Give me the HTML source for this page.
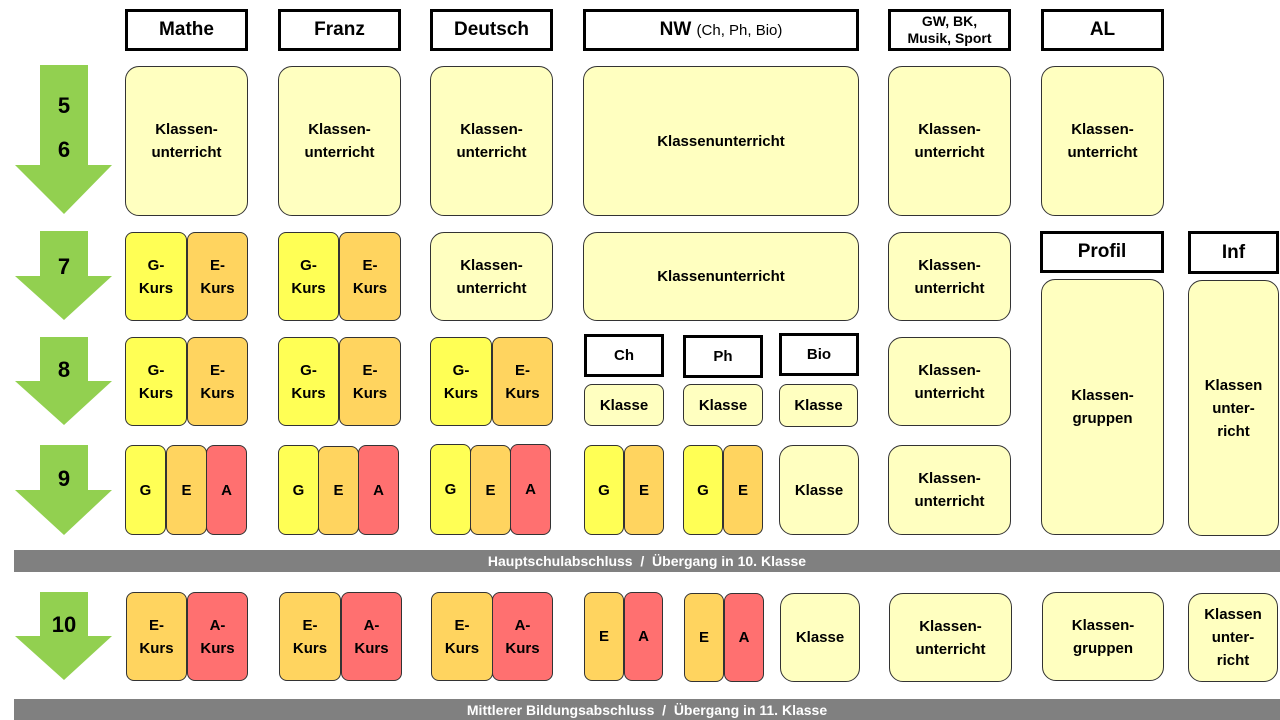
<!DOCTYPE html>
<html><head><meta charset="utf-8"><style>
body{margin:0;width:1280px;height:720px;background:#fff;position:relative;overflow:hidden;font-family:"Liberation Sans",sans-serif;font-weight:bold;}
div{position:absolute;box-sizing:border-box;display:flex;align-items:center;justify-content:center;text-align:center;color:#000;}
.h{border:3px solid #000;background:#fff;font-size:19px;}
.b{border:1px solid #333;border-radius:14px;background:#ffffc0;font-size:15px;line-height:23px;}
.s{border-radius:8px;}
.g{background:#ffff55;}
.e{background:#ffd45f;}
.a{background:#ff7070;}
.bar{background:#808080;color:#fff;font-size:14px;}
.n{font-size:22px;line-height:44px;}
</style></head><body>
<svg style="position:absolute;left:0;top:0" width="130" height="720">
<g fill="#92d050">
<polygon points="40,65 88,65 88,165 112,165 64,214 15,165 40,165"/>
<polygon points="40,231 88,231 88,276 112,276 64,320 15,276 40,276"/>
<polygon points="40,337 88,337 88,381 112,381 64,425 15,381 40,381"/>
<polygon points="40,445 88,445 88,490 112,490 64,535 15,490 40,490"/>
<polygon points="40,592 88,592 88,636 112,636 64,680 15,636 40,636"/>
</g></svg>
<div class="n" style="left:40px;top:83px;width:48px;height:90px;">5<br>6</div>
<div class="n" style="left:40px;top:245px;width:48px;height:44px;">7</div>
<div class="n" style="left:40px;top:348px;width:48px;height:44px;">8</div>
<div class="n" style="left:40px;top:457px;width:48px;height:44px;">9</div>
<div class="n" style="left:40px;top:603px;width:48px;height:44px;">10</div>

<div class="h" style="left:125px;top:9px;width:123px;height:42px;">Mathe</div>
<div class="h" style="left:278px;top:9px;width:123px;height:42px;">Franz</div>
<div class="h" style="left:430px;top:9px;width:123px;height:42px;">Deutsch</div>
<div class="h" style="left:583px;top:9px;width:276px;height:42px;">NW&nbsp;<span style="font-weight:normal;font-size:15px">(Ch, Ph, Bio)</span></div>
<div class="h" style="left:888px;top:9px;width:123px;height:42px;font-size:14px;line-height:17px;">GW, BK,<br>Musik, Sport</div>
<div class="h" style="left:1041px;top:9px;width:123px;height:42px;">AL</div>
<div class="h" style="left:1040px;top:231px;width:124px;height:42px;">Profil</div>
<div class="h" style="left:1188px;top:231px;width:91px;height:43px;">Inf</div>

<!-- row 5/6 -->
<div class="b" style="left:125px;top:66px;width:123px;height:150px;">Klassen-<br>unterricht</div>
<div class="b" style="left:278px;top:66px;width:123px;height:150px;">Klassen-<br>unterricht</div>
<div class="b" style="left:430px;top:66px;width:123px;height:150px;">Klassen-<br>unterricht</div>
<div class="b" style="left:583px;top:66px;width:276px;height:150px;">Klassenunterricht</div>
<div class="b" style="left:888px;top:66px;width:123px;height:150px;">Klassen-<br>unterricht</div>
<div class="b" style="left:1041px;top:66px;width:123px;height:150px;">Klassen-<br>unterricht</div>

<!-- row 7 -->
<div class="b s g" style="left:125px;top:232px;width:62px;height:89px;">G-<br>Kurs</div>
<div class="b s e" style="left:187px;top:232px;width:61px;height:89px;">E-<br>Kurs</div>
<div class="b s g" style="left:278px;top:232px;width:61px;height:89px;">G-<br>Kurs</div>
<div class="b s e" style="left:339px;top:232px;width:62px;height:89px;">E-<br>Kurs</div>
<div class="b" style="left:430px;top:232px;width:123px;height:89px;">Klassen-<br>unterricht</div>
<div class="b" style="left:583px;top:232px;width:276px;height:89px;">Klassenunterricht</div>
<div class="b" style="left:888px;top:232px;width:123px;height:89px;">Klassen-<br>unterricht</div>

<!-- row 8 -->
<div class="b s g" style="left:125px;top:337px;width:62px;height:89px;">G-<br>Kurs</div>
<div class="b s e" style="left:187px;top:337px;width:61px;height:89px;">E-<br>Kurs</div>
<div class="b s g" style="left:278px;top:337px;width:61px;height:89px;">G-<br>Kurs</div>
<div class="b s e" style="left:339px;top:337px;width:62px;height:89px;">E-<br>Kurs</div>
<div class="b s g" style="left:430px;top:337px;width:62px;height:89px;">G-<br>Kurs</div>
<div class="b s e" style="left:492px;top:337px;width:61px;height:89px;">E-<br>Kurs</div>
<div class="h" style="left:584px;top:334px;width:80px;height:43px;font-size:15px;">Ch</div>
<div class="h" style="left:683px;top:335px;width:80px;height:43px;font-size:15px;">Ph</div>
<div class="h" style="left:779px;top:333px;width:80px;height:43px;font-size:15px;">Bio</div>
<div class="b s" style="left:584px;top:384px;width:80px;height:42px;">Klasse</div>
<div class="b s" style="left:683px;top:384px;width:80px;height:42px;">Klasse</div>
<div class="b s" style="left:779px;top:384px;width:79px;height:43px;">Klasse</div>
<div class="b" style="left:888px;top:337px;width:123px;height:89px;">Klassen-<br>unterricht</div>
<div class="b" style="left:1041px;top:279px;width:123px;height:256px;">Klassen-<br>gruppen</div>
<div class="b" style="left:1188px;top:280px;width:91px;height:256px;">Klassen<br>unter-<br>richt</div>

<!-- row 9 -->
<div class="b s g" style="left:125px;top:445px;width:41px;height:90px;">G</div>
<div class="b s e" style="left:166px;top:445px;width:41px;height:90px;">E</div>
<div class="b s a" style="left:206px;top:445px;width:41px;height:90px;">A</div>
<div class="b s g" style="left:278px;top:445px;width:41px;height:90px;">G</div>
<div class="b s e" style="left:318px;top:446px;width:41px;height:89px;">E</div>
<div class="b s a" style="left:358px;top:445px;width:41px;height:90px;">A</div>
<div class="b s g" style="left:430px;top:444px;width:41px;height:91px;">G</div>
<div class="b s e" style="left:470px;top:445px;width:41px;height:90px;">E</div>
<div class="b s a" style="left:510px;top:444px;width:41px;height:91px;">A</div>
<div class="b s g" style="left:584px;top:445px;width:40px;height:90px;">G</div>
<div class="b s e" style="left:624px;top:445px;width:40px;height:90px;">E</div>
<div class="b s g" style="left:683px;top:445px;width:40px;height:90px;">G</div>
<div class="b s e" style="left:723px;top:445px;width:40px;height:90px;">E</div>
<div class="b" style="left:779px;top:445px;width:80px;height:90px;">Klasse</div>
<div class="b" style="left:888px;top:445px;width:123px;height:90px;">Klassen-<br>unterricht</div>

<div class="bar" style="left:14px;top:550px;width:1266px;height:22px;">Hauptschulabschluss &nbsp;/ &nbsp;Übergang in 10. Klasse</div>

<!-- row 10 -->
<div class="b s e" style="left:126px;top:592px;width:61px;height:89px;">E-<br>Kurs</div>
<div class="b s a" style="left:187px;top:592px;width:61px;height:89px;">A-<br>Kurs</div>
<div class="b s e" style="left:279px;top:592px;width:62px;height:89px;">E-<br>Kurs</div>
<div class="b s a" style="left:341px;top:592px;width:61px;height:89px;">A-<br>Kurs</div>
<div class="b s e" style="left:431px;top:592px;width:62px;height:89px;">E-<br>Kurs</div>
<div class="b s a" style="left:492px;top:592px;width:61px;height:89px;">A-<br>Kurs</div>
<div class="b s e" style="left:584px;top:592px;width:40px;height:89px;">E</div>
<div class="b s a" style="left:624px;top:592px;width:39px;height:89px;">A</div>
<div class="b s e" style="left:684px;top:593px;width:40px;height:89px;">E</div>
<div class="b s a" style="left:724px;top:593px;width:40px;height:89px;">A</div>
<div class="b" style="left:780px;top:593px;width:80px;height:89px;">Klasse</div>
<div class="b" style="left:889px;top:593px;width:123px;height:89px;">Klassen-<br>unterricht</div>
<div class="b" style="left:1042px;top:592px;width:122px;height:89px;">Klassen-<br>gruppen</div>
<div class="b" style="left:1188px;top:593px;width:90px;height:89px;">Klassen<br>unter-<br>richt</div>

<div class="bar" style="left:14px;top:699px;width:1266px;height:21px;">Mittlerer Bildungsabschluss &nbsp;/ &nbsp;Übergang in 11. Klasse</div>
</body></html>
